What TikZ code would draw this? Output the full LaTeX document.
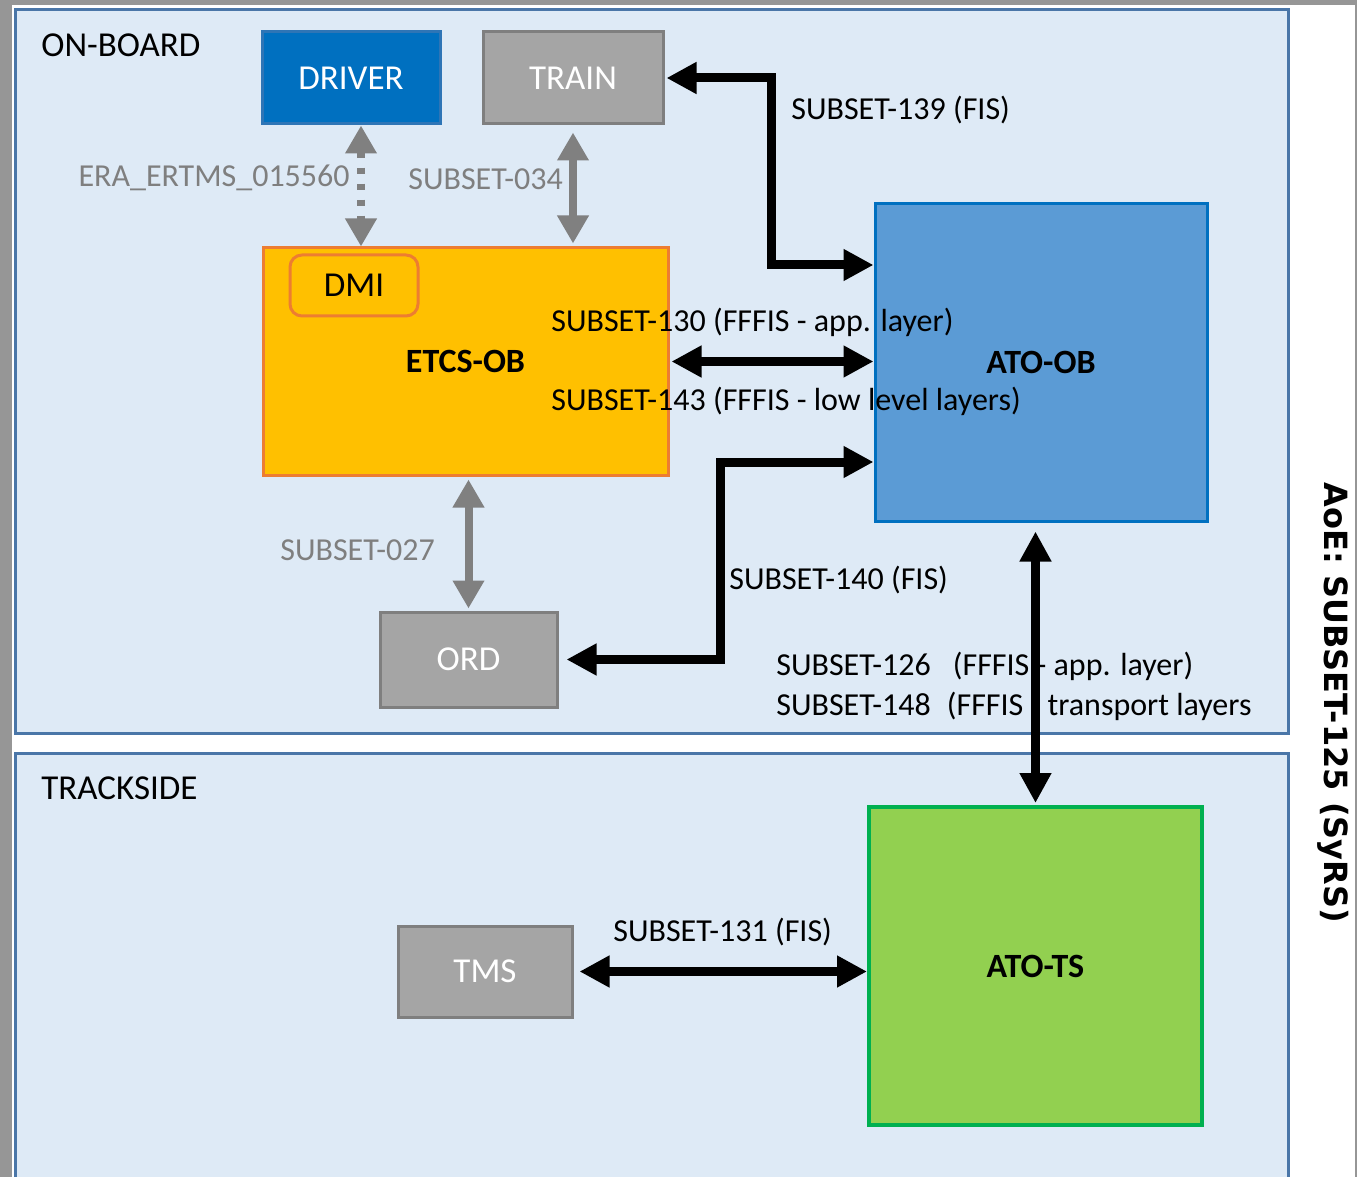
\documentclass[tikz,border=0pt]{standalone}
\usepackage{fontspec}
\setmainfont{Carlito}
\newfontfamily\sidefont{DejaVu Sans}
\usetikzlibrary{arrows.meta}

\definecolor{panel}{HTML}{DEEAF6}
\definecolor{panelline}{HTML}{4A76A8}
\definecolor{drv}{HTML}{0070C0}
\definecolor{drvline}{HTML}{2E75B6}
\definecolor{ext}{HTML}{A5A5A5}
\definecolor{extline}{HTML}{7F7F7F}
\definecolor{etcs}{HTML}{FFC000}
\definecolor{etcsline}{HTML}{ED7D31}
\definecolor{atoob}{HTML}{5B9BD5}
\definecolor{atoobline}{HTML}{0070C0}
\definecolor{atots}{HTML}{92D050}
\definecolor{atotsline}{HTML}{00B050}
\definecolor{lnk}{HTML}{808080}
\definecolor{frame}{HTML}{969696}

\begin{document}
\begin{tikzpicture}[x=0.5pt,y=-0.5pt,
    font=\fontsize{16}{19}\selectfont,
    box/.style={draw, line width=1.5pt, inner sep=0pt,
      font=\fontsize{17.5}{20}\selectfont},
    bigbox/.style={box, font=\fontsize{17}{20}\selectfont\bfseries},
    extbox/.style={box, fill=ext, draw=extline, text=white},
    lbl/.style={inner sep=0pt, anchor=base west},
    glbl/.style={lbl, text=extline},
    glink/.style={draw=lnk, line width=4pt,
      {Triangle[length=14pt,width=15pt]}-{Triangle[length=14pt,width=15pt]}},
    blink/.style={draw=black, line width=4.5pt,
      {Triangle[length=15pt,width=15pt]}-{Triangle[length=15pt,width=15pt]}}]

  \useasboundingbox (0,0) rectangle (1357,1177);
  \fill[white] (0,0) rectangle (1357,1177);
  \fill[frame] (0,0) rectangle (12,1177);
  \fill[frame] (0,0) rectangle (1357,5);
  \draw[frame, line width=1pt] (1356,5) -- (1356,1177);

  % the two areas
  \draw[panelline, fill=panel, line width=1.5pt] (15,10) rectangle (1288,733);
  \draw[panelline, fill=panel, line width=1.5pt] (15,753) rectangle (1288,1200);
  \node[lbl, font=\fontsize{17.5}{20}\selectfont] (onboard) at (41,57) {ON-BOARD};
  \node[lbl, font=\fontsize{17.5}{20}\selectfont] (trackside) at (41,799) {TRACKSIDE};

  % on-board blocks
  \node[box, fill=drv, draw=drvline, text=white, minimum width=89pt, minimum height=46pt] (DRIVER) at (351,78) {DRIVER};
  \node[extbox, minimum width=90pt, minimum height=46pt] (TRAIN) at (573,78) {TRAIN};
  \node[bigbox, fill=etcs, draw=etcsline, minimum width=202.5pt, minimum height=113.5pt] (ETCS) at (465.5,361.5) {ETCS-OB};
  \node[box, fill=etcs, draw=etcsline, rounded corners=6pt, minimum width=64pt, minimum height=30.5pt] (DMI) at (354,285.5) {DMI};
  \node[bigbox, fill=atoob, draw=atoobline, minimum width=166pt, minimum height=158.5pt] (ATOOB) at (1041,362.5) {ATO-OB};
  \node[extbox, minimum width=88.5pt, minimum height=47.5pt] (ORD) at (468.5,659.5) {ORD};

  % trackside blocks
  \node[extbox, minimum width=87pt, minimum height=45.5pt] (TMS) at (485,971.5) {TMS};
  \node[bigbox, fill=atots, draw=atotsline, line width=2pt, minimum width=166.5pt, minimum height=159pt] (ATOTS) at (1035.5,966) {ATO-TS};

  % interface names
  \node[glbl, anchor=base east] (era) at (350,187) {ERA\_ERTMS\_015560};
  \node[glbl] (s034) at (408,190) {SUBSET-034};
  \node[glbl] (s027) at (280,560) {SUBSET-027};
  \node[lbl] (s139) at (791,120) {SUBSET-139 (FIS)};
  \node[lbl] (s130) at (551,331) {SUBSET-130 (FFFIS - app. layer)};
  \node[lbl] (s143) at (551,410) {SUBSET-143 (FFFIS - low level layers)};
  \node[lbl] (s140) at (729,589) {SUBSET-140 (FIS)};
  \node[lbl] (s126) at (776,675) {SUBSET-126\hspace{11pt}(FFFIS - app. layer)};
  \node[lbl] (s148) at (776,715) {SUBSET-148\hspace{8pt}(FFFIS - transport layers};
  \node[lbl] (s131) at (613,941) {SUBSET-131 (FIS)};
  \node[font=\sidefont\bfseries\fontsize{16}{19}\selectfont, rotate=-90, inner sep=0pt] (aoe) at (1333,703) {AoE: SUBSET-125 (SyRS)};

  % grey links
  \draw[glink, dash pattern=on 3pt off 5pt] ([xshift=5pt]DRIVER.south) -- ([xshift=5pt]DRIVER.south |- ETCS.north);
  \draw[glink, shorten <=3.5pt, shorten >=1.5pt] (TRAIN.south) -- (TRAIN.south |- ETCS.north);
  \draw[glink, shorten <=1.5pt, shorten >=1pt] (ETCS.south -| ORD.north) -- (ORD.north);

  % black links
  \coordinate (k1) at (771,265);
  \coordinate (k2) at (720,462);
  \draw[blink, shorten <=1pt] (TRAIN.east) -| (k1) -- (k1 -| ATOOB.west);
  \draw[blink, shorten <=1pt] (ETCS.east) -- (ETCS.east -| ATOOB.west);
  \draw[blink, shorten <=4pt] (ORD.east) -| (k2) -- (k2 -| ATOOB.west);
  \draw[blink, shorten <=4.5pt, shorten >=1pt] (ATOTS.north |- ATOOB.south) -- (ATOTS.north);
  \draw[blink, shorten <=3pt] (TMS.east) -- (TMS.east -| ATOTS.west);
\end{tikzpicture}
\end{document}
